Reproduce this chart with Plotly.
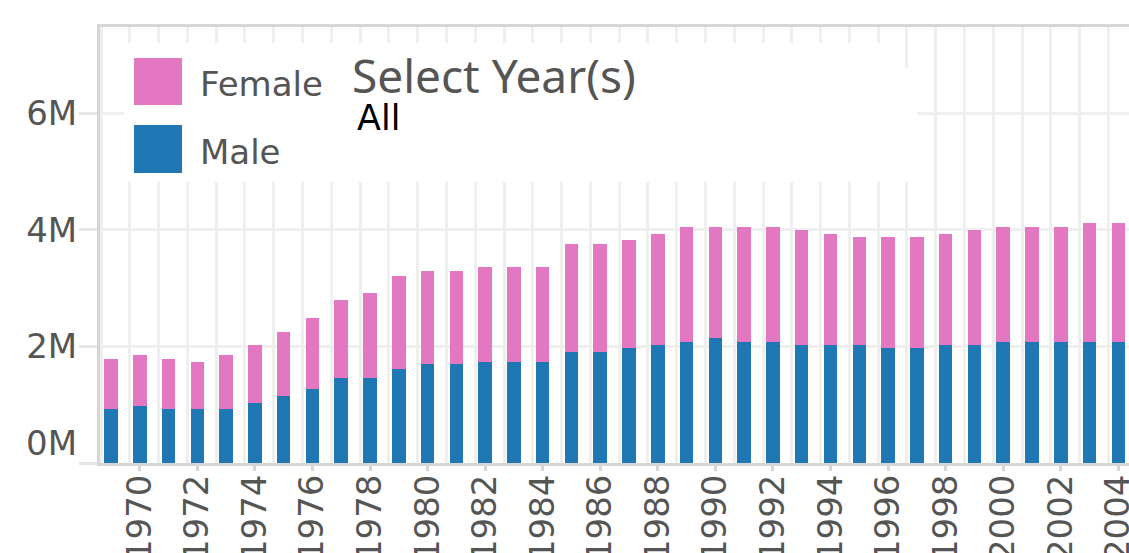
import plotly.graph_objects as go

# ---- data ----
years = list(range(1969, 2005))
male = [0.93, 0.98, 0.93, 0.93, 0.93, 1.03, 1.15, 1.27, 1.45, 1.45,
        1.62, 1.69, 1.69, 1.74, 1.74, 1.74, 1.91, 1.91, 1.98, 2.03,
        2.08, 2.15, 2.08, 2.08, 2.03, 2.03, 2.03, 1.98, 1.98, 2.03,
        2.03, 2.08, 2.08, 2.08, 2.08, 2.08]
female = [0.86, 0.88, 0.86, 0.81, 0.93, 1.00, 1.10, 1.22, 1.34, 1.46,
          1.58, 1.61, 1.61, 1.63, 1.63, 1.63, 1.85, 1.85, 1.85, 1.90,
          1.97, 1.90, 1.97, 1.97, 1.97, 1.90, 1.85, 1.90, 1.90, 1.90,
          1.97, 1.97, 1.97, 1.97, 2.04, 2.04]
male_vals = [v * 1e6 for v in male]
female_vals = [v * 1e6 for v in female]
x_tickvals = list(range(1970, 2005, 2))
x_ticktext = [str(y) for y in x_tickvals]
y_tickvals = [0, 2e6, 4e6, 6e6]
y_ticktext = ["", "2M", "4M", "6M"]
legend_labels = ["Female", "Male"]

MALE_C = "#1f77b4"
FEMALE_C = "#e377c2"
GRID_C = "#efefef"
AXIS_C = "#d6d6d6"
TXT_C = "#555555"

W, H = 1129, 553
ML, MR, MT, MB = 100, 0, 27, 90
PW = W - ML - MR
PH = H - MT - MB


def px(xp):
    return (xp - ML) / PW


def py(yp):
    return (H - MB - yp) / PH


fig = go.Figure()
fig.add_trace(go.Bar(x=years, y=male_vals, name="Male", marker_color=MALE_C,
                     width=0.47, marker_line_width=0))
fig.add_trace(go.Bar(x=years, y=female_vals, name="Female", marker_color=FEMALE_C,
                     width=0.47, marker_line_width=0))

shapes = [
    # white legend / filter panel covering gridlines
    dict(type="rect", xref="paper", yref="paper", x0=px(124), x1=px(900),
         y0=py(182), y1=py(43), fillcolor="white", line_width=0, layer="above"),
    dict(type="rect", xref="paper", yref="paper", x0=px(124), x1=px(917),
         y0=py(182), y1=py(68), fillcolor="white", line_width=0, layer="above"),
    # legend swatches
    dict(type="rect", xref="paper", yref="paper", x0=px(134), x1=px(182),
         y0=py(105), y1=py(58), fillcolor=FEMALE_C, line_width=0, layer="above"),
    dict(type="rect", xref="paper", yref="paper", x0=px(134), x1=px(182),
         y0=py(173), y1=py(125), fillcolor=MALE_C, line_width=0, layer="above"),
]

annotations = [
    dict(text=legend_labels[0], xref="paper", yref="paper", x=px(198), y=py(84),
         xanchor="left", yanchor="middle", showarrow=False,
         font=dict(family="DejaVu Sans", size=34, color=TXT_C)),
    dict(text=legend_labels[1], xref="paper", yref="paper", x=px(198), y=py(152),
         xanchor="left", yanchor="middle", showarrow=False,
         font=dict(family="DejaVu Sans", size=34, color=TXT_C)),
    dict(text="Select Year(s)", xref="paper", yref="paper", x=px(350), y=py(75),
         xanchor="left", yanchor="middle", showarrow=False,
         font=dict(family="Noto Sans", size=46, color=TXT_C)),
    dict(text="All", xref="paper", yref="paper", x=px(355), y=py(118),
         xanchor="left", yanchor="middle", showarrow=False,
         font=dict(family="DejaVu Sans", size=35, color="#000000")),
    dict(text="0M", xref="paper", yref="paper", x=px(79), y=py(443),
         xanchor="right", yanchor="middle", showarrow=False,
         font=dict(family="DejaVu Sans", size=34, color=TXT_C)),
]

fig.update_layout(
    width=W, height=H,
    margin=dict(l=ML, r=MR, t=MT, b=MB, pad=0, autoexpand=False),
    barmode="stack",
    plot_bgcolor="white", paper_bgcolor="white",
    showlegend=False,
    shapes=shapes,
    annotations=annotations,
    xaxis=dict(
        range=[1968.618, 2004.372], type="linear", automargin=False,
        tickmode="array", tickvals=x_tickvals, ticktext=x_ticktext,
        tickangle=-90, showgrid=False, zeroline=False,
        ticks="outside", ticklen=5, tickwidth=3, tickcolor=AXIS_C,
        showline=True, linecolor=AXIS_C, linewidth=3, mirror=True,
        ticklabeloverflow="allow", ticklabelstandoff=-10,
        tickfont=dict(family="DejaVu Sans", size=34, color=TXT_C),
        minor=dict(tick0=1968.656, dtick=1, showgrid=True, gridcolor=GRID_C,
                   gridwidth=3, ticks=""),
    ),
    yaxis=dict(
        range=[0, 7.479e6], automargin=False,
        tickmode="array", tickvals=y_tickvals, ticktext=y_ticktext,
        showgrid=True, gridcolor=GRID_C, gridwidth=3, zeroline=False,
        ticks="outside", ticklen=18, tickwidth=3, tickcolor="#e6e6e6",
        showline=True, linecolor=AXIS_C, linewidth=3,
        ticklabelstandoff=-5,
        tickfont=dict(family="DejaVu Sans", size=34, color=TXT_C),
    ),
)

fig.write_html(
    "out.html",
    config={"displayModeBar": False},
    post_script="document.body.style.margin='0';document.body.style.overflow='hidden';",
)
